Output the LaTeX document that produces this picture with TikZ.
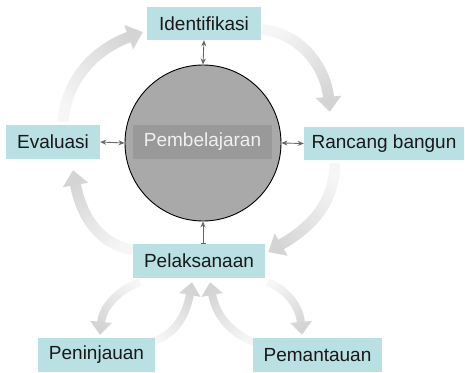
\documentclass[tikz,border=0pt]{standalone}
\usepackage{fontspec}
\setmainfont{Liberation Sans}
\usetikzlibrary{arrows.meta,fadings}
\definecolor{boxcyan}{RGB}{185,224,227}
\definecolor{ringgray}{RGB}{169,169,169}
\definecolor{coregray}{RGB}{153,153,153}
\definecolor{linkgray}{RGB}{102,102,102}
\definecolor{flowgray}{RGB}{212,212,212}
\tikzfading[name=flowfade,left color=transparent!80,right color=transparent!0]
\pgfdeclarelayer{background}
\pgfsetlayers{background,main}
\begin{document}
\begin{tikzpicture}[x=1pt,y=-1pt,
    font=\fontsize{19}{22}\selectfont,
    stage/.style={fill=boxcyan,text=black!90,inner sep=0pt,minimum height=33pt},
    link/.style={draw=linkgray,line width=0.9pt,{Stealth[length=6pt,width=5pt]}-{Stealth[length=6pt,width=5pt]}},
    flow/.style={draw=flowgray,line width=11pt,path fading=flowfade,fading angle=#1,-{Triangle[length=15pt,width=25pt]}},
    subflow/.style={draw=flowgray,line width=8pt,path fading=flowfade,fading angle=#1,-{Triangle[length=13pt,width=21pt]}}]
    \useasboundingbox (0,0) rectangle (465,372);

    \node[circle,draw=black,line width=0.9pt,fill=ringgray,minimum size=156pt] (circ) at (203,143) {};
    \node[fill=coregray,text=white!94!black,inner sep=0pt,minimum width=139pt,minimum height=34pt] (pemb) at (202.5,142) {Pembelajaran};

    \node[stage,minimum width=114pt] (iden) at (204,23.5) {Identifikasi};
    \node[stage,minimum width=94pt,minimum height=34pt] (eval) at (53,142) {Evaluasi};
    \node[stage,minimum width=160pt] (ranc) at (384,143.5) {Rancang bangun};
    \node[stage,minimum width=132pt,minimum height=34pt] (pel) at (199,261) {Pelaksanaan};
    \node[stage,minimum width=117pt,minimum height=34pt] (penin) at (96.5,355) {Peninjauan};
    \node[stage,minimum width=129pt,minimum height=34pt] (peman) at (317.5,355) {Pemantauan};

    \draw[link] (iden.south) -- (circ.north);
    \draw[link] (eval.east) -- (circ.west);
    \draw[link] (circ.east) -- (ranc.west);
    \draw[draw=linkgray,line width=0.9pt,{Bar[width=5pt]}-{Stealth[length=6pt,width=5pt]}] (circ.south |- pel.north) -- (circ.south);

    \begin{pgfonlayer}{background}
        \draw[flow=48] ([xshift=10pt,yshift=3pt]eval.north) to[out=85,in=200] ([xshift=-4pt,yshift=-8.5pt]iden.west);
        \draw[flow=-50] ([yshift=-6pt]iden.east) to[out=-5,in=95] ([xshift=26pt,yshift=15pt]ranc.north west);
        \draw[flow=233] ([xshift=31pt,yshift=-3pt]ranc.south west) to[out=-90,in=30] ([xshift=3pt,yshift=9pt]pel.east);
        \draw[flow=127] ([yshift=11pt]pel.west) to[out=170,in=-80] ([xshift=20pt,yshift=-11pt]eval.south);

        \draw[subflow=233] ([xshift=7pt,yshift=-4pt]pel.south west) to[out=200,in=85] ([xshift=3.5pt,yshift=3pt]penin.north);
        \draw[subflow=57] ([xshift=-2pt,yshift=-4pt]penin.north east) to[out=20,in=-100] ([xshift=-7pt,yshift=-4pt]pel.south);
        \draw[subflow=126] ([xshift=1pt,yshift=-4pt]peman.north west) to[out=160,in=-80] ([xshift=11pt,yshift=-4pt]pel.south);
        \draw[subflow=-57] ([xshift=2pt,yshift=-4pt]pel.south east) to[out=-20,in=95] ([xshift=-15.5pt,yshift=3pt]peman.north);
    \end{pgfonlayer}
\end{tikzpicture}
\end{document}
